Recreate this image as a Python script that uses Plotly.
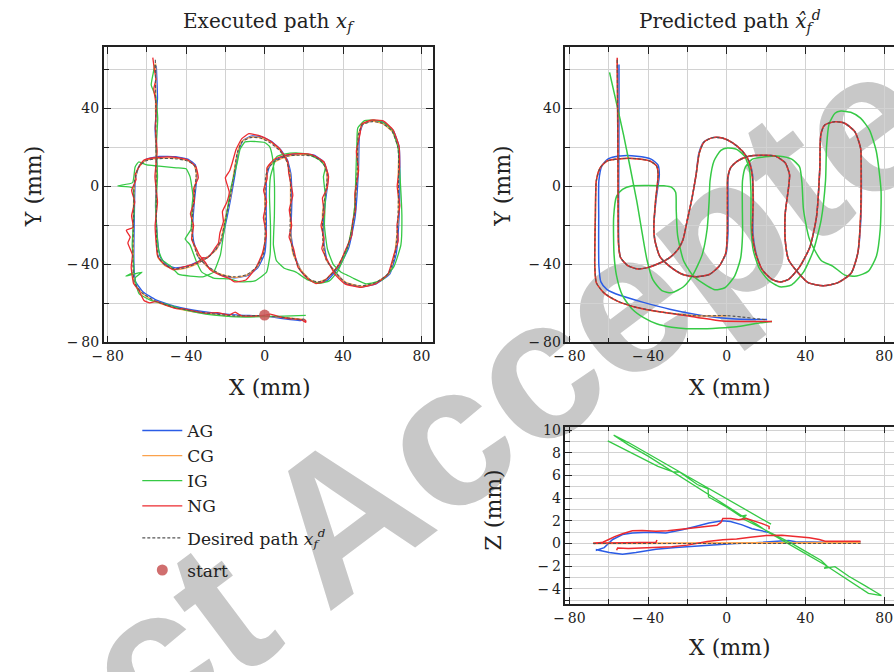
import plotly.graph_objects as go

# ---------------- data (mm) ----------------
DES_X = [-55.7,-55.5,-55.3,-55.2,-55,-54,-50.5,-45.8,-40.8,-34,-29,-24.8,-22.3,-20,-17.6,-15.6,-14,-11.5,-7.2,-2.2,3,8,11.2,12.9,13.4,13,14.6,18,23,27.2,31.4,37.2,42.3,45.6,47.3,47.8,49.8,54.9,59.9,65,68,68.3,68,66.6,63.3,56.5,49,41.4,36.4,31.4,29.7,29.7,31.4,31.9,29.7,24.7,18,11.2,5.4,2,0.5,0.3,0.3,-0.5,-3.9,-8.9,-15.6,-22.3,-29,-34,-36.6,-37.1,-36.2,-34.9,-35.7,-39.1,-45.8,-54.2,-60.9,-64.3,-66.3,-66.8,-67.1,-66.3,-62.6,-55.9,-45.8,-32.4,-15.6,0,20.5]
DES_Y = [65,40,10,-15,-30,-36.5,-40.5,-42.3,-41.8,-39.3,-36.5,-32.3,-27.5,-17,-5.6,6,17,22.8,25,24.8,22.3,18,13,6,-7.3,-24,-34,-42.7,-47.7,-49,-47.7,-41,-31,-15.7,9.6,26.5,31.5,33.2,32.4,28.2,19.7,6,-15.7,-34.2,-44.4,-49.4,-51,-49.4,-44.4,-37.6,-27.5,-14,-0.5,6,12.1,15.5,16,15.5,13,9.6,4.6,-7.3,-24,-34.2,-41,-45.2,-46.4,-45.2,-41,-36,-27.5,-20.7,-7.3,6,10.5,13,14.2,14.2,13,9.6,3,-15.7,-41,-49.4,-54.5,-58.7,-62.1,-64.6,-66.4,-66.3,-68.5]

# executed paths
EXE_AG_X = [-55.2,-54.6,-55.8,-54.9,-55.6,-54.5,-53.3,-50,-45.3,-40.2,-34.5,-28.5,-24.2,-21.6,-19.2,-17,-15,-13.5,-11,-6.8,-1.8,3.6,8.5,11.7,13.4,13.9,13.5,15,18.6,23.5,27.7,32,37.8,42.9,46.1,47.9,48.4,50.3,55.4,60.4,65.6,68.6,69,68.6,67.1,63.8,56.9,49.4,41.8,36.9,31.9,30.2,30.2,31.9,32.4,30.2,25.2,18.4,11.6,5.8,2.5,1,0.8,0.9,0,-3.4,-8.5,-15.2,-22,-28.6,-33.6,-36.2,-36.7,-35.8,-34.5,-35.3,-38.7,-45.4,-53.8,-60.5,-64,-65.9,-66.4,-66.6,-65.8,-62.1,-55.4,-45.3,-31.9,-15.1,0.5,18.5,20]
EXE_AG_Y = [62,45,30,10,-10,-28,-36,-40.2,-41.8,-41.2,-38.8,-35.8,-31.5,-26.7,-16.2,-5,6.5,17.6,23.6,25.8,25.5,23,18.5,13.4,6.5,-7.8,-24.5,-34.6,-43.2,-48.3,-49.6,-48.2,-41.6,-31.5,-16.2,9.2,26.9,32.1,33.8,33,28.7,20.2,6.4,-15.2,-34.7,-45,-50,-51.6,-49.9,-44.9,-38.2,-28,-14.5,-1,5.5,12.6,16,16.5,16,13.6,10.1,5,-7.8,-24.5,-34.7,-41.6,-45.7,-46.9,-45.7,-41.5,-36.5,-28,-21.2,-7.8,5.5,11,13.8,15.2,15.4,13.8,10.4,3.6,-15.2,-40.5,-48.8,-54,-58.2,-61.6,-64.1,-65.9,-66.6,-68.8,-67.8]
EXE_CG_X = [-55.5,-55.6,-55.2,-55.3,-55.1,-54.2,-50.6,-45.6,-40.6,-34.2,-29.2,-24.6,-22.1,-20.3,-17.4,-15.8,-13.8,-11.7,-7,-2.4,3.3,8.2,11.4,13.1,13.2,13.3,14.4,18.2,23.2,27,31.6,37,42.5,45.4,47.5,47.6,50,54.7,60.2,65.2,68.3,68.1,68.2,66.4,63.5,56.3,49.2,41.2,36.6,31.2,29.9,29.5,31.6,31.7,29.9,24.5,18.2,11,5.6,1.8,0.7,0.1,0.5,-0.7,-3.7,-9.1,-15.4,-22.5,-29.2,-33.8,-36.8,-36.9,-36.4,-34.7,-35.9,-39.3,-45.6,-54.4,-60.7,-64.5,-66.1,-67,-66.9,-66.5,-62.4,-56.1,-45.6,-32.6,-15.4,0.2,20.3]
EXE_CG_Y = [63,40,10,-15,-30,-36.8,-40.8,-42.6,-42,-39.6,-36.3,-32.6,-27.2,-17.3,-5.3,6.3,17.3,23,25.3,25,22.6,18.2,12.7,5.7,-7,-24.3,-34.3,-42.4,-48,-49.3,-47.4,-41.3,-30.7,-16,9.9,26.2,31.8,33.5,32.2,28,19.4,6.3,-16,-34,-44.7,-49.6,-51.3,-49.1,-44.7,-37.3,-27.8,-13.7,-0.8,6.3,12.4,15.8,16.3,15.3,12.8,9.9,4.3,-7,-24.3,-34,-41.3,-45.5,-46.7,-45,-41.3,-35.7,-27.8,-20.4,-7,6.3,10.8,13.3,14.5,14.4,13.3,9.3,3.3,-16,-41.3,-49.7,-54.8,-59,-62.4,-64.9,-66.7,-66.6,-68.2]
EXE_IG_X = [-56,-56.8,-57.8,-55.5,-54.5,-55.2,-54.6,-55.4,-54.8,-54,-52,-48,-44,-38,-31,-26,-22.5,-21,-19,-17,-14,-12.5,-10,-4,0,2.5,4,5,5,4.5,6,10,16,22,28,33,37,41.5,44,46,46.5,47,47.5,51,56,61,65,68,69,70,69.5,66,60,52,45,42,39,35,32,30.5,31,30,31,28,22,16,10,6,5,3,2.5,3,2.8,1,-5,-12,-18,-26,-32,-35,-38,-40.5,-37.5,-37,-36.5,-38,-40,-45,-50,-55,-60,-64.2,-66,-67.3,-74.9,-67.3,-66.5,-67.5,-66.8,-70.7,-62.5,-66,-64,-58,-50,-40,-30,-20,-10,0,10,21]
EXE_IG_Y = [62.5,58,52,46,35,20,5,-10,-25,-33,-38,-40.8,-45,-46,-46.3,-44,-35,-25,-12,0,12,19,22.8,23,22.5,20.5,15,2,-15,-30,-38,-42,-44,-48,-49.8,-48.5,-44,-34,-24,-10,5,20,30,33.7,34,32.5,29,20,6,-15,-30,-41,-48,-50,-47,-45.5,-44,-40,-32,-20,-5,5,10,13.5,16.5,17.2,16.5,15,12,5,-5,-20,-35,-44,-48.5,-49,-47.5,-47,-44,-38,-30,-27,-22,-10,-5,5,9,9.5,10,10.5,11,12.5,10,1.9,0.2,-0.7,-12,-30,-44,-46,-44,-47,-55,-58.5,-60.5,-63.5,-65.5,-66.5,-67,-66.8,-66.5,-66.2]
EXE_NG_X = [-57,-56.2,-55.4,-56.5,-55.3,-55.7,-54.8,-55.9,-54.6,-55.8,-55.2,-54.5,-51,-46.5,-41,-36.5,-33,-31.5,-29.5,-27.5,-25.5,-23.5,-22.8,-21,-21.5,-19.2,-18,-20,-17.8,-16.5,-14.5,-11.6,-8,-2,2.5,7.5,11.8,12.3,14.4,12.6,13.8,12.5,14.8,17,21.5,26,30,33,36.2,38.4,41.5,44.5,44.9,46.4,46,47.9,46.8,48.7,49.5,54.3,60.5,65.5,68.6,68.8,67.6,68.9,67.5,68.1,66.1,62.8,56.2,48.5,41,36,32.2,29.2,30.3,28.8,30.4,29.5,31.8,32.6,30.3,24.3,18.4,11.4,4.8,1.2,1.3,-0.5,1,-0.6,0.9,-1.2,-4.6,-9.5,-15.3,-18,-22.6,-27.8,-30,-33.2,-35,-37.2,-36.2,-37.8,-35.8,-36.1,-33.8,-35,-39.4,-46.5,-54.5,-61.5,-63.5,-66,-65.5,-67.8,-66.2,-67.8,-67,-70.5,-68.5,-69.7,-67.4,-68,-66.8,-64,-61.5,-58.5,-55.3,-50,-45,-41,-36,-30,-24,-18,-15,-12,-6,0.5,3,8,14,19,21,20.5,21.3]
EXE_NG_Y = [66,60,55,50,42,30,18,5,-8,-20,-30,-36,-40,-42.8,-41.2,-40,-38.2,-36.5,-36.8,-35,-32,-29,-24,-18,-13,-8,-3,4.4,8,12,19,24.5,27,25.8,23.5,19.5,12.6,6.8,-4.5,-12,-20,-26,-32,-41.5,-47,-49.8,-49,-46,-42.6,-39.5,-32,-25,-18,-12,-4,8,18,27,31.9,34,33.6,29,20.4,10,0,-10,-20,-28,-34.5,-45.2,-50.2,-51.8,-50,-45.3,-38.2,-32,-27,-20,-13.5,-6,-1.3,5,12.5,16.2,16.8,16.2,13.8,9.5,4,-2,-8,-16,-24.6,-34.6,-42,-48,-49,-47.2,-45.6,-42.7,-39.3,-35.3,-31.5,-27.2,-20,-14,-7.8,-1,4.4,10,13.7,15,14.8,13.5,11,6,3.5,-2,-8,-15,-21,-22.5,-26,-29,-35,-41.5,-49.8,-53.5,-58.5,-59.8,-59,-61,-62.7,-62.8,-64,-65,-64.8,-66,-64.5,-66.3,-66.5,-66,-65.5,-67,-68,-68.5,-69.8,-68.2,-69.4]
START_X = [0]
START_Y = [-66]

# predicted paths
PRE_AG_X = [-54.8,-54.8,-54.9,-55,-54.9,-54,-50.5,-45.8,-40.8,-34,-29,-24.8,-22.3,-20,-17.6,-15.6,-14.2,-11.7,-7.3,-2.3,3,8,11.3,13.1,13.5,13.3,14.8,18,23,27.2,31.4,37.2,42.3,45.6,47.3,47.8,49.8,54.9,59.9,65,68,68.4,68.2,66.6,63.3,56.5,49,41.4,36.4,31.4,29.7,29.7,31.4,31.9,29.7,24.7,18,11.2,5.4,2,0.7,0.6,0.6,-0.3,-3.9,-8.9,-15.6,-22.3,-29,-34,-36.6,-37.1,-36,-34.3,-35,-38.5,-45.8,-54.2,-60.5,-63.5,-65,-65.1,-65,-64,-61,-54,-42.4,-29,-12,4.5,20.5]
PRE_AG_Y = [62.5,40,10,-15,-30,-36.5,-40.5,-42.3,-41.8,-39.3,-36.5,-32.3,-27.5,-17,-5.6,6,17,22.8,25,24.8,22.3,18,13,6,-7.3,-24,-34,-42.7,-47.7,-49,-47.7,-41,-31,-15.7,9.6,26.5,31.5,33.2,32.4,28.2,19.7,6,-15.7,-34.2,-44.4,-49.4,-51,-49.4,-44.4,-37.6,-27.5,-14,-0.5,6,12.1,15.5,16,15.5,13,9.6,4.6,-7.3,-24,-34.2,-41,-45.2,-46.4,-45.2,-41,-36,-27.5,-20.7,-7.3,6,11,14,15.5,15.6,14,10.5,3,-15.7,-41,-49,-52.8,-56,-59.5,-63,-66.3,-68,-68.3]
PRE_CG_X = [-55.7,-55.5,-55.3,-55.2,-55,-54,-50.5,-45.8,-40.8,-34,-29,-24.8,-22.3,-20,-17.6,-15.6,-14,-11.5,-7.2,-2.2,3,8,11.2,12.9,13.4,13,14.6,18,23,27.2,31.4,37.2,42.3,45.6,47.3,47.8,49.8,54.9,59.9,65,68,68.3,68,66.6,63.3,56.5,49,41.4,36.4,31.4,29.7,29.7,31.4,31.9,29.7,24.7,18,11.2,5.4,2,0.5,0.3,0.3,-0.5,-3.9,-8.9,-15.6,-22.3,-29,-34,-36.6,-37.1,-36.2,-34.9,-35.7,-39.1,-45.8,-54.2,-60.9,-64.3,-66.3,-66.8,-67.1,-66.3,-62.6,-55.9,-45.8,-32.4,-15.6,0]
PRE_CG_Y = [65,40,10,-15,-30,-36.5,-40.5,-42.3,-41.8,-39.3,-36.5,-32.3,-27.5,-17,-5.6,6,17,22.8,25,24.8,22.3,18,13,6,-7.3,-24,-34,-42.7,-47.7,-49,-47.7,-41,-31,-15.7,9.6,26.5,31.5,33.2,32.4,28.2,19.7,6,-15.7,-34.2,-44.4,-49.4,-51,-49.4,-44.4,-37.6,-27.5,-14,-0.5,6,12.1,15.5,16,15.5,13,9.6,4.6,-7.3,-24,-34.2,-41,-45.2,-46.4,-45.2,-41,-36,-27.5,-20.7,-7.3,6,10.5,13,14.2,14.2,13,9.6,3,-15.7,-41,-49.4,-54.5,-58.7,-62.1,-64.6,-66.4,-66.3]
PRE_IG_X = [-59.6,-52.5,-45.8,-43,-40.5,-37.5,-33,-28,-22,-17,-12.5,-10,-9,-8.5,-6.5,-3,0.3,5,9,11.5,12.3,12.3,13.5,16.5,21,27,33,39,44,48,50.2,50.7,52,55,58,63,68,72.5,76,78.4,78,76,72,66,60,54,48,42,39,38.2,37,33,27,19.6,13,9.5,8,7.9,8,7,4,-1,-6,-10,-17,-22,-25,-25.7,-26,-28,-32,-40,-48,-53,-56,-57.5,-57.3,-56,-53,-48,-42,-35.7,-28,-20.6,-10,-3.9,5,11.2,17,23]
PRE_IG_Y = [58.5,26.5,-7.3,-24,-38,-48,-53.5,-54.5,-51.5,-45,-35,-22,-8,3,13,18.5,19.7,19,15.5,9,-3,-20,-33,-42,-48,-51.5,-50.5,-44,-33,-17,3,20,32,37.5,38.6,38,35,29,18,-2,-22,-36,-43.5,-46,-45.5,-41,-38,-27,-12,2,10,14,15.5,15.2,14,10,3,-10,-25,-37,-46,-52,-53,-51,-46,-38,-25,-12,-3,-0.5,0.3,0.5,0.3,-1.5,-5,-15.7,-35,-46,-56,-63,-67.5,-70.5,-72.3,-73,-73,-72.7,-72,-71,-70,-69.3]
PRE_NG_X = [-55.7,-55.5,-55.3,-55.2,-55,-54,-50.5,-45.8,-40.8,-34,-29,-24.8,-22.3,-20,-17.6,-15.6,-14,-11.5,-7.2,-2.2,3,8,11.2,12.9,13.4,13,14.6,18,23,27.2,31.4,37.2,42.3,45.6,47.3,47.8,49.8,54.9,59.9,65,68,68.3,68,66.6,63.3,56.5,49,41.4,36.4,31.4,29.7,29.7,31.4,31.9,29.7,24.7,18,11.2,5.4,2,0.5,0.3,0.3,-0.5,-3.9,-8.9,-15.6,-22.3,-29,-34,-36.6,-37.1,-36.2,-34.9,-35.7,-39.1,-45.8,-54.2,-60.9,-64.3,-66.3,-66.8,-67.1,-66.3,-62.6,-55.9,-45.8,-32.4,-15.6,-2.2,11.2,23]
PRE_NG_Y = [66,40,10,-15,-30,-36.5,-40.5,-42.3,-41.8,-39.3,-36.5,-32.3,-27.5,-17,-5.6,6,17,22.8,25,24.8,22.3,18,13,6,-7.3,-24,-34,-42.7,-47.7,-49,-47.7,-41,-31,-15.7,9.6,26.5,31.5,33.2,32.4,28.2,19.7,6,-15.7,-34.2,-44.4,-49.4,-51,-49.4,-44.4,-37.6,-27.5,-14,-0.5,6,12.1,15.5,16,15.5,13,9.6,4.6,-7.3,-24,-34.2,-41,-45.2,-46.4,-45.2,-41,-36,-27.5,-20.7,-7.3,6,10.5,13,14.2,14.2,13,9.6,3,-15.7,-41,-49.4,-54.5,-58.7,-62.1,-64.6,-67.1,-69.1,-69.3,-69.3]

# predicted Z (X vs Z)
Z_DES_X = [-68,-30,0,30,68]
Z_DES = [0,0,0,0,0]
Z_CG_X = [-68,-40,-10,20,50,68]
Z_CG = [0,0.02,0.03,0.05,0.06,0.06]
Z_AG_X = [22,18,12.8,7.8,1.9,-2.4,-9.1,-15.9,-22.6,-31,-39.5,-48,-53,-58,-62.3,-66.2,-66.2,-59.7,-53,-46.2,-36,-26,-15.9,-5.7,4.4,14.5,24.6,31.4,35,50,68]
Z_AG = [0.95,1.1,1.3,1.64,1.93,2.0,1.8,1.5,1.2,0.92,0.98,0.92,0.78,0.35,-0.37,-0.6,-0.55,-0.8,-0.95,-0.8,-0.52,-0.37,-0.23,-0.09,0,0.06,0.2,0.26,0.15,0.1,0.12]
Z_NG_X = [-67.5,-63,-60,-57,-53,-48,-43,-36,-30,-26,-18,-10,-5,-3,-2,2,6,10,14,18,21.5,21.5,None,-56,-55.5,-50,-44,-36,-28,-20,-15,-10,-2,5,12,20,28,35,42,47,50,60,68,None,-68,-50,-36,-35.5]
Z_NG = [0,0.1,0.35,0.6,0.85,1.12,1.15,1.08,1.12,1.2,1.3,1.48,1.6,1.85,2.2,2.2,2.08,2.2,2.0,1.75,1.5,1.25,None,-0.6,-0.4,-0.45,-0.42,-0.35,-0.3,-0.15,0,0.18,0.32,0.4,0.55,0.7,0.72,0.62,0.5,0.35,0.2,0.2,0.2,None,0.02,0.05,0.1,0.3]
Z_IG_X = [-60.5,-45,-35,-27,-24,-15,-9.5,-9.3,0,7,10,8,15,25,33,40,48,51,49.5,55,62,70,78.6,72,60,50,40,30,22,15,8,0,-10,-20,-30,-40,-50,-57.5,-50,-40,-30,-20,-10,0,10,22.5]
Z_IG = [9.05,7.7,6.8,6.3,6.3,5.2,4.8,4.1,3.2,2.4,2.5,2.2,1.6,0.7,0,-0.7,-1.5,-2.0,-2.2,-2.05,-2.9,-3.7,-4.6,-4.4,-3.0,-1.9,-0.9,0.1,0.9,1.7,2.4,3.3,4.4,5.5,6.6,7.7,8.7,9.55,8.9,7.9,6.9,5.9,4.9,3.9,2.9,1.7]

# tick labels
XY_TICKS = [-80, -40, 0, 40, 80]
XY_TICK_LABELS = ["\u2212\u200980", "\u2212\u200940", "0", "40", "80"]
XY_MINOR = [-60, -20, 20, 60]
Y_TICKS = [-80, -40, 0, 40]
Y_TICK_LABELS = ["\u2212\u200980", "\u2212\u200940", "0", "40"]
Z_TICKS = [-4, -2, 0, 2, 4, 6, 8, 10]
Z_TICK_LABELS = ["\u2212\u20094", "\u2212\u20092", "0", "2", "4", "6", "8", "10"]
Z_MINOR = [-5, -3, -1, 1, 3, 5, 7, 9]

# ---------------- styling ----------------
W, H = 894, 672
FONT = "DejaVu Serif"
C_AG, C_CG, C_IG, C_NG = "#2b5ce6", "#fba24c", "#36c945", "#ec2a2f"
C_DES = "#555555"
GRID = "#d2d2d2"

def px(x):
    return x / W

def py(y):
    return 1 - y / H

fig = go.Figure()

def add(x, y, color, name, xa, ya, legend=False, width=1.3, dash=None, shape="linear", group=None, smooth=0.6):
    fig.add_trace(go.Scatter(
        x=x, y=y, mode="lines", name=name, legendgroup=group or name,
        showlegend=legend, xaxis=xa, yaxis=ya,
        line=dict(color=color, width=width, dash=dash, shape=shape, smoothing=smooth),
        hoverinfo="skip", connectgaps=False))

# executed (left)
add(EXE_AG_X, EXE_AG_Y, C_AG, "AG", "x", "y", legend=True, shape="spline", group="runs", smooth=0.4)
add(EXE_CG_X, EXE_CG_Y, C_CG, "CG", "x", "y", legend=True, shape="spline", group="runs", smooth=0.4)
add(EXE_IG_X, EXE_IG_Y, C_IG, "IG", "x", "y", legend=True, shape="spline", group="runs", smooth=0.4)
add(EXE_NG_X, EXE_NG_Y, C_NG, "NG", "x", "y", legend=True, shape="spline", group="runs", smooth=0.4)
add(DES_X, DES_Y, C_DES, "Desired path <i>x</i><sub><i>f</i></sub><sup><i>d</i></sup>", "x", "y",
    legend=True, width=1.1, dash="3px,2px", shape="spline", group="des")
fig.add_trace(go.Scatter(x=START_X, y=START_Y, mode="markers", name="start", xaxis="x", yaxis="y",
                         legendgroup="start",
                         marker=dict(size=11, color="rgba(200,85,85,0.85)"), hoverinfo="skip"))

# predicted (right top)
add(PRE_AG_X, PRE_AG_Y, C_AG, "AG2", "x2", "y2", width=1.5, shape="spline")
add(PRE_CG_X, PRE_CG_Y, C_CG, "CG2", "x2", "y2", width=1.5, shape="spline")
add(PRE_IG_X, PRE_IG_Y, C_IG, "IG2", "x2", "y2", width=1.5, shape="spline")
add(PRE_NG_X, PRE_NG_Y, C_NG, "NG2", "x2", "y2", width=1.5, shape="spline")
add(DES_X, DES_Y, C_DES, "des2", "x2", "y2", width=1.1, dash="3px,2px", shape="spline")

# predicted Z (right bottom)
add(Z_AG_X, Z_AG, C_AG, "AG3", "x3", "y3", width=1.5)
add(Z_CG_X, Z_CG, C_CG, "CG3", "x3", "y3", width=1.8)
add(Z_IG_X, Z_IG, C_IG, "IG3", "x3", "y3", width=1.3)
add(Z_NG_X, Z_NG, C_NG, "NG3", "x3", "y3", width=1.5)
add(Z_DES_X, Z_DES, C_DES, "des3", "x3", "y3", width=1.1, dash="3px,2px")

tickfont = dict(family=FONT, size=14, color="#222")

def xaxis(domain, anchor):
    return dict(domain=domain, anchor=anchor, range=[-82, 86] if anchor == "y" else [-82, 85],
                tickmode="array", tickvals=XY_TICKS, ticktext=XY_TICK_LABELS,
                ticks="inside", ticklen=7, tickwidth=1.2, tickcolor="#222",
                showline=True, linecolor="#222", linewidth=1.6, mirror="ticks",
                showgrid=True, gridcolor=GRID, gridwidth=1.3, zeroline=False,
                tickfont=tickfont,
                minor=dict(tickmode="array", tickvals=XY_MINOR, ticks="inside", ticklen=5,
                           tickcolor="#222", showgrid=True, gridcolor=GRID, gridwidth=1.3))

def yaxis(domain, anchor, rng, vals, labels, minor, mirror):
    return dict(domain=domain, anchor=anchor, range=rng,
                tickmode="array", tickvals=vals, ticktext=labels,
                ticks="inside", ticklen=7, tickwidth=1.2, tickcolor="#222",
                showline=True, linecolor="#222", linewidth=1.6, mirror=mirror,
                showgrid=True, gridcolor=GRID, gridwidth=1.3, zeroline=False, tickfont=tickfont,
                minor=dict(tickmode="array", tickvals=minor, ticks="inside", ticklen=5,
                           tickcolor="#222", showgrid=True, gridcolor=GRID, gridwidth=1.3))

fig.update_layout(
    width=W, height=H, autosize=False,
    margin=dict(l=0, r=0, t=0, b=0),
    paper_bgcolor="white", plot_bgcolor="rgba(0,0,0,0)",
    font=dict(family=FONT, color="#222"),
    xaxis=xaxis([px(93), px(427)], "y"),
    yaxis=yaxis([py(344), py(43)], "x", [-80, 71.4], Y_TICKS, Y_TICK_LABELS, [-60, -20, 20, 60], "ticks"),
    xaxis2=xaxis([px(561), 1.0], "y2"),
    yaxis2=yaxis([py(344), py(43)], "x2", [-80, 71.4], Y_TICKS, Y_TICK_LABELS, [-60, -20, 20, 60], False),
    yaxis5=dict(overlaying="y2", anchor="x2", side="right", range=[-80, 71.4],
                tickmode="array", tickvals=[-60, -40, -20, 0, 20, 40, 60], ticks="inside", ticklen=7,
                tickcolor="#222", tickwidth=1.2, showticklabels=False, showgrid=False,
                showline=False, zeroline=False),
    xaxis3=xaxis([px(561), 1.0], "y3"),
    yaxis3=yaxis([py(611), py(430)], "x3", [-5.36, 10.3], Z_TICKS, Z_TICK_LABELS, Z_MINOR, False),
    yaxis6=dict(overlaying="y3", anchor="x3", side="right", range=[-5.36, 10.3],
                tickmode="array", tickvals=Z_TICKS + Z_MINOR, ticks="inside", ticklen=7,
                tickcolor="#222", tickwidth=1.2, showticklabels=False, showgrid=False,
                showline=False, zeroline=False),
    showlegend=True,
    legend=dict(x=px(127), y=py(416), xanchor="left", yanchor="top",
                bgcolor="rgba(0,0,0,0)", font=dict(family=FONT, size=17, color="#222"),
                itemwidth=40, tracegroupgap=7),
)

ann = []
def text(x, y, t, size, angle=0):
    ann.append(dict(x=px(x), y=py(y), xref="paper", yref="paper", text=t, showarrow=False,
                    textangle=angle, xanchor="center", yanchor="middle",
                    font=dict(family=FONT, size=size, color="#222")))

text(260, 17, "Executed path <i>x</i><sub><i>f</i></sub>", 20)
text(728, 17, "Predicted path <i>x\u0302</i><sub><i>f</i></sub><sup><i>d</i></sup>", 20)
text(262, 390, "X (mm)", 22)
text(728, 390, "X (mm)", 22)
text(728, 655, "X (mm)", 22)
text(22, 185, "Y (mm)", 22, angle=-90)
text(497, 185, "Y (mm)", 22, angle=-90)
text(488, 515, "Z (mm)", 22, angle=-90)
fig.update_layout(annotations=ann)

# watermark, drawn beneath the traces
fig.add_shape(type="rect", xref="paper", yref="paper", layer="below",
              x0=px(538) - 0.01, x1=px(538) + 0.01, y0=py(342) - 0.01, y1=py(342) + 0.01,
              line=dict(width=0), fillcolor="rgba(0,0,0,0)",
              label=dict(text="ct Accepted", textangle=-37, textposition="middle center",
                         font=dict(family="Liberation Sans", size=200, color="#c8c8c8", weight="bold")))

fig.write_html("out.html")
